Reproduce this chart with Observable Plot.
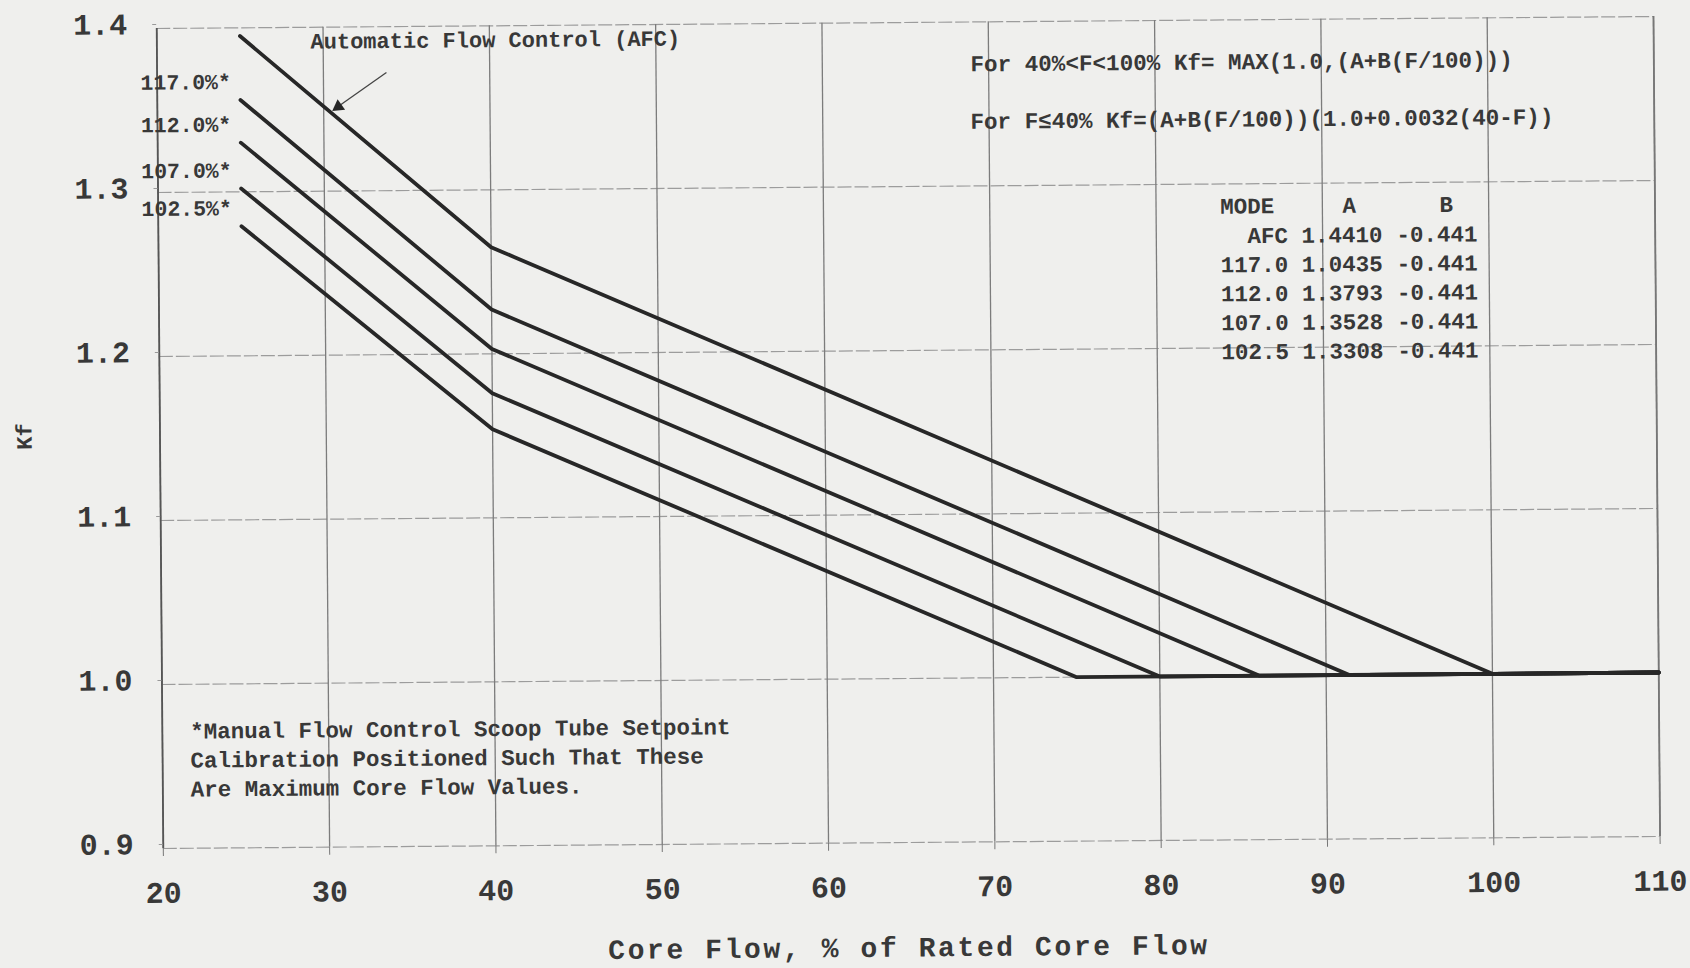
<!DOCTYPE html>
<html><head><meta charset="utf-8">
<script src="https://cdn.jsdelivr.net/npm/d3@7"></script>
<script src="https://cdn.jsdelivr.net/npm/@observablehq/plot@0.6"></script>
<style>
html,body{margin:0;padding:0;background:#efefed;overflow:hidden;}
#chart svg{display:block;transform:rotate(-0.46deg);transform-origin:907.75px 433.5px;}
</style></head><body><div id="chart"></div>
<script>
// axis ticks
const xTicks = [20, 30, 40, 50, 60, 70, 80, 90, 100, 110];
const yTicks = [0.9, 1.0, 1.1, 1.2, 1.3, 1.4];

// table of modes and coefficients
const modeNames = ["AFC", "117.0", "112.0", "107.0", "102.5"];
const coefA = ["1.4410", "1.0435", "1.3793", "1.3528", "1.3308"];
const coefB = ["-0.441", "-0.441", "-0.441", "-0.441", "-0.441"];

// curves (core flow %, Kf)
const flowAFC = [25, 40, 100, 110];  const kfAFC = [1.395, 1.265, 1.000, 1.000];
const flow117 = [25, 40, 91.4, 110]; const kf117 = [1.356, 1.227, 1.000, 1.000];
const flow112 = [25, 40, 86.0, 110]; const kf112 = [1.330, 1.203, 1.000, 1.000];
const flow107 = [25, 40, 80.0, 110]; const kf107 = [1.302, 1.176, 1.000, 1.000];
const flow102 = [25, 40, 75.0, 110]; const kf102 = [1.279, 1.154, 1.000, 1.000];

// text
const formula1 = "For 40%<F<100% Kf= MAX(1.0,(A+B(F/100)))";
const formula2 = "For F\u226440% Kf=(A+B(F/100))(1.0+0.0032(40-F))";
const afcLabel = "Automatic Flow Control (AFC)";
const noteLines = ["*Manual Flow Control Scoop Tube Setpoint", "Calibration Positioned Such That These", "Are Maximum Core Flow Values."];
const xTitle = "Core Flow, % of Rated Core Flow";
const yTitle = "Kf";

const series = [
  {mode: modeNames[0], flow: flowAFC, kf: kfAFC},
  {mode: modeNames[1], flow: flow117, kf: kf117},
  {mode: modeNames[2], flow: flow112, kf: kf112},
  {mode: modeNames[3], flow: flow107, kf: kf107},
  {mode: modeNames[4], flow: flow102, kf: kf102}
];
const rows = series.flatMap(s => s.flow.map((f, i) => ({mode: s.mode, flow: f, kf: s.kf[i]})));

const ink = "#272727";
const txt = "#383838";
const font = "'Liberation Mono', 'DejaVu Sans Mono', monospace";

const chart = Plot.plot({
  width: 1690, height: 968,
  marginLeft: 159.5, marginRight: 33.7, marginTop: 22, marginBottom: 126,
  x: {domain: [20, 110]},
  y: {domain: [0.9, 1.4]},
  style: {background: "transparent", fontFamily: font, fontWeight: "bold", color: txt},
  marks: [
    Plot.ruleY(yTicks, {x1: 20, x2: 110, stroke: "#9c9c9c", strokeWidth: 1.2, strokeDasharray: "14 3"}),
    Plot.ruleX(xTicks, {y1: 0.9, y2: 1.4, stroke: "#7c7c7c", strokeWidth: 1.3}),
    Plot.ruleX([20], {y1: 0.9, y2: 1.4, stroke: "#555", strokeWidth: 1.8}),
    Plot.ruleX([110], {y1: 0.9, y2: 1.4, stroke: "#777", strokeWidth: 1.8}),
    Plot.axisX(xTicks, {tickSize: 8, tickPadding: 25, fontSize: 30, stroke: "#777", fill: txt, fontWeight: "bold", tickFormat: d => String(d), label: null}),
    Plot.axisY(yTicks, {tickSize: 4, tickPadding: 25.5, fontSize: 30, stroke: "#999", fill: txt, fontWeight: "bold", tickFormat: d3.format(".1f"), dy: -4, label: null}),
    Plot.line(rows, {x: "flow", y: "kf", z: "mode", stroke: ink, strokeWidth: 3.8, strokeLinejoin: "round"}),
    // manual-mode labels next to the curve starts
    Plot.text(series.slice(1), {x: 19.0, y: d => d.kf[0], dy: -18, text: d => d.mode + "%*", textAnchor: "start", fontSize: 21.5, fill: txt}),
    // AFC label and arrow
    Plot.text([afcLabel], {x: 29.24, y: 1.3913, textAnchor: "start", fontSize: 22, fill: txt}),
    Plot.link([0], {x1: 33.79, y1: 1.3721, x2: 30.7, y2: 1.3503, stroke: "#444", strokeWidth: 1.3}),
    Plot.dot([0], {x: 30.88, y: 1.3515, symbol: "triangle", r: 4.8, fill: ink, stroke: "none", rotate: 235}),
    // formulas
    Plot.text([formula1], {x: 68.91, y: 1.3743, textAnchor: "start", fontSize: 22.6, fill: txt}),
    Plot.text([formula2], {x: 68.88, y: 1.3393, textAnchor: "start", fontSize: 22.6, fill: txt}),
    // table
    Plot.text(["MODE"], {x: 83.86, y: 1.2863, textAnchor: "start", fontSize: 22.5, fill: txt}),
    Plot.text(["A"], {x: 91.62, y: 1.2863, textAnchor: "middle", fontSize: 22.5, fill: txt}),
    Plot.text(["B"], {x: 97.45, y: 1.2863, textAnchor: "middle", fontSize: 22.5, fill: txt}),
    Plot.text([modeNames.join("\n")], {x: 87.92, y: 1.2341, textAnchor: "end", lineHeight: 1.289, fontSize: 22.5, fill: txt}),
    Plot.text([coefA.join("\n")], {x: 88.73, y: 1.2341, textAnchor: "start", lineHeight: 1.289, fontSize: 22.5, fill: txt}),
    Plot.text([coefB.join("\n")], {x: 94.44, y: 1.2341, textAnchor: "start", lineHeight: 1.289, fontSize: 22.5, fill: txt}),
    // note
    Plot.text([noteLines.join("\n")], {x: 21.68, y: 0.9549, textAnchor: "start", lineHeight: 1.29, fontSize: 22.5, fill: txt}),
    // axis titles
    Plot.text([yTitle], {frameAnchor: "left", dx: -135.5, dy: -3, rotate: -90, textAnchor: "middle", fontSize: 22, fill: txt}),
    Plot.text([xTitle], {frameAnchor: "bottom", dx: -3.6, dy: 114, textAnchor: "middle", fontSize: 28, fill: txt})
  ]
});
d3.select(chart).selectAll("text")
  .filter(function() { return this.textContent === xTitle; })
  .attr("letter-spacing", 2.6);
document.getElementById("chart").appendChild(chart);
</script>
</body></html>
